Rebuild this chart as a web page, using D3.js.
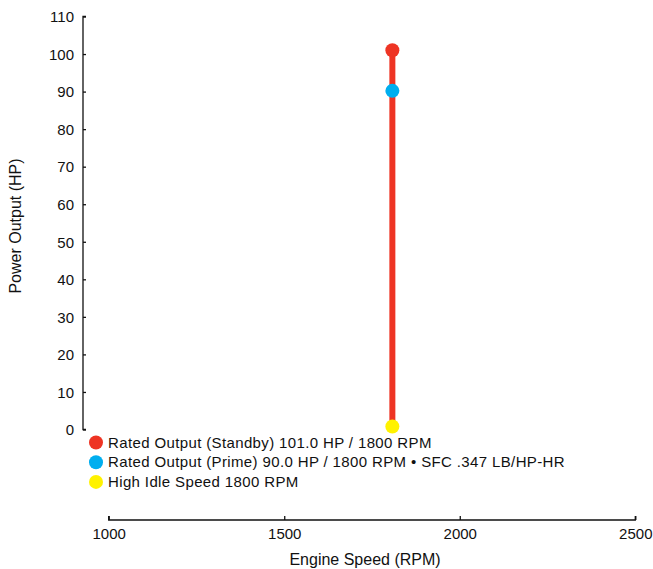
<!DOCTYPE html>
<html>
<head>
<meta charset="utf-8">
<script src="https://cdn.jsdelivr.net/npm/d3@7"></script>
<style>
  body { margin: 0; background: #fff; }
  text { font-family: "Liberation Sans", Arial, sans-serif; fill: #111; }
</style>
</head>
<body>
<div class="svg-container"></div>
<script>
var width = 653, height = 569;

// data
var points = [
  { name: "standby", rpm: 1808, hp: 101.0, color: "#ee3424" },
  { name: "prime", rpm: 1808, hp: 90.2, color: "#00aeef" },
  { name: "idle", rpm: 1808, hp: 0.8, color: "#fff200" }
];
var legendLabels = [
  "Rated Output (Standby) 101.0 HP / 1800 RPM",
  "Rated Output (Prime) 90.0 HP / 1800 RPM \u2022 SFC .347 LB/HP-HR",
  "High Idle Speed 1800 RPM"
];
var xTicks = [1000, 1500, 2000, 2500];
var yTicks = [0, 10, 20, 30, 40, 50, 60, 70, 80, 90, 100, 110];

var svgCanvas = d3.select(".svg-container").append("svg")
    .attr("width", width)
    .attr("height", height);

var x = d3.scaleLinear().domain([1000, 2500]).range([108.7, 635.3]);
var y = d3.scaleLinear().domain([0, 110]).range([429.5, 16.5]);

// y axis
var yAxis = svgCanvas.append("g")
    .attr("transform", "translate(83,0)")
    .call(d3.axisRight(y).tickValues(yTicks).tickSize(3).tickFormat(d3.format("d")));
yAxis.select(".domain").attr("stroke", "#111").attr("stroke-width", 1.3)
    .attr("d", "M3,16.5H0V429.5H3");
yAxis.selectAll(".tick line").attr("stroke", "#111").attr("stroke-width", 1.3);
yAxis.selectAll(".tick text")
    .attr("x", -9).attr("text-anchor", "end")
    .style("font-size", "15px").attr("dy", "0.35em");

// x axis
var xAxis = svgCanvas.append("g")
    .attr("transform", "translate(0,520)")
    .call(d3.axisTop(x).tickValues(xTicks).tickSize(4).tickFormat(d3.format("d")));
xAxis.select(".domain").attr("stroke", "#111").attr("stroke-width", 1.3)
    .attr("d", "M108.7,-4V0H635.3V-4");
xAxis.selectAll(".tick line").attr("stroke", "#111").attr("stroke-width", 1.3);
xAxis.selectAll(".tick text")
    .attr("y", 19).attr("dy", 0)
    .style("font-size", "15px");

// axis titles
svgCanvas.append("text")
    .attr("transform", "translate(21,226) rotate(-90)")
    .attr("text-anchor", "middle")
    .style("font-size", "16px")
    .text("Power Output (HP)");

svgCanvas.append("text")
    .attr("x", 365).attr("y", 565)
    .attr("text-anchor", "middle")
    .style("font-size", "16px")
    .text("Engine Speed (RPM)");

// vertical range line
svgCanvas.append("line")
    .attr("x1", x(points[0].rpm)).attr("x2", x(points[2].rpm))
    .attr("y1", y(points[0].hp)).attr("y2", y(points[2].hp))
    .attr("stroke", "#ee3424")
    .attr("stroke-width", 6);

svgCanvas.selectAll("circle.pt")
    .data(points)
    .enter()
    .append("circle")
    .attr("class", "pt")
    .attr("cx", function(d) { return x(d.rpm); })
    .attr("cy", function(d) { return y(d.hp); })
    .attr("r", 7)
    .style("fill", function(d) { return d.color; });

// legend
var legend = svgCanvas.selectAll("g.leg")
    .data(legendLabels)
    .enter()
    .append("g")
    .attr("class", "leg")
    .attr("transform", function(d, i) { return "translate(96," + (442.5 + i * 19.7) + ")"; });

legend.append("circle")
    .attr("r", 7)
    .style("fill", function(d, i) { return points[i].color; });

legend.append("text")
    .attr("x", 12)
    .attr("dy", "0.35em")
    .style("font-size", "15px")
    .style("letter-spacing", "0.37px")
    .text(function(d) { return d; });
</script>
</body>
</html>
